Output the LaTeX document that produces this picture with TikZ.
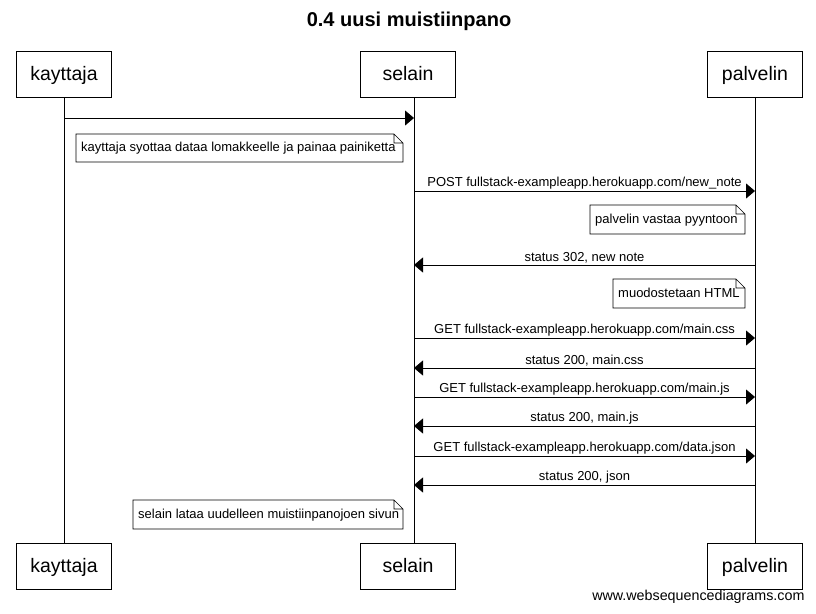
\documentclass[tikz,border=0pt]{standalone}
\usepackage{fontspec}
\setmainfont{Liberation Sans}
\usetikzlibrary{arrows.meta}
\tikzset{
  actor/.style={draw,line width=0.8pt,minimum width=95pt,minimum height=46pt,inner sep=0pt,
    text height=13pt,text depth=1pt,font=\fontsize{19.5}{22}\selectfont},
  lifeline/.style={line width=0.7pt},
  msg/.style={line width=0.8pt,-{Triangle[length=9pt,width=15pt]}},
  msgtxt/.style={above,inner sep=1pt,font=\fontsize{13}{15}\selectfont},
  notetxt/.style={text height=9pt,text depth=2pt,font=\fontsize{13}{15}\selectfont}
}
% note with folded corner: \notebox{x1}{y1}{x2}{y2}{text}
\newcommand{\notebox}[5]{%
  \draw[line width=0.6pt,fill=white] (#1,#2) -- (#3-9,#2) -- (#3,#2+9) -- (#3,#4) -- (#1,#4) -- cycle
    (#3-9,#2) -- (#3-9,#2+9) -- (#3,#2+9);
  \node[notetxt,anchor=west,inner sep=0pt] at (#1+5,{(#2+#4)/2}) {#5};}
\begin{document}
\begin{tikzpicture}[x=1pt,y=-1pt]
	\useasboundingbox (0,0) rectangle (816,613);
	\node[font=\bfseries\fontsize{20}{23}\selectfont] (title) at (409,21) {0.4 uusi muistiinpano};
	% participants
	\node[actor] (kt) at (64,74) {kayttaja};
	\node[actor] (st) at (408,74) {selain};
	\node[actor] (pt) at (755,74) {palvelin};
	\node[actor] (kb) at (64,566) {kayttaja};
	\node[actor] (sb) at (408,566) {selain};
	\node[actor] (pb) at (755,566) {palvelin};
	\path (st.south) ++(6,0) coordinate (s0) (sb.north) ++(6,0) coordinate (s1);
	\draw[lifeline] (kt) -- (kb) (s0) -- (s1) (pt) -- (pb);
	% messages
	\coordinate (k1) at (64,118); \coordinate (s1a) at (414,118);
	\draw[msg] (k1) -- (s1a);
	\notebox{76}{134}{403}{162}{kayttaja syottaa dataa lomakkeelle ja painaa painiketta}
	\foreach \y/\dir/\txt in {191/r/{POST fullstack-exampleapp.herokuapp.com/new\_note},
	                          265/l/{status 302, new note},
	                          338/r/{GET fullstack-exampleapp.herokuapp.com/main.css},
	                          368/l/{status 200, main.css},
	                          397/r/{GET fullstack-exampleapp.herokuapp.com/main.js},
	                          426/l/{status 200, main.js},
	                          456/r/{GET fullstack-exampleapp.herokuapp.com/data.json},
	                          485/l/{status 200, json}}{
		\coordinate (s\y) at (414,\y); \coordinate (p\y) at (755,\y);
		\if\dir r \draw[msg] (s\y) -- node[msgtxt]{\txt} (p\y);
		\else \draw[msg] (p\y) -- node[msgtxt]{\txt} (s\y); \fi
	}
	\notebox{590}{205}{745}{234}{palvelin vastaa pyyntoon}
	\notebox{613}{279}{745}{308}{muodostetaan HTML}
	\notebox{133}{500}{403}{529}{selain lataa uudelleen muistiinpanojoen sivun}
	\node[anchor=east,font=\fontsize{14.3}{16}\selectfont] (wsd) at (808,597) {www.websequencediagrams.com};
\end{tikzpicture}
\end{document}
